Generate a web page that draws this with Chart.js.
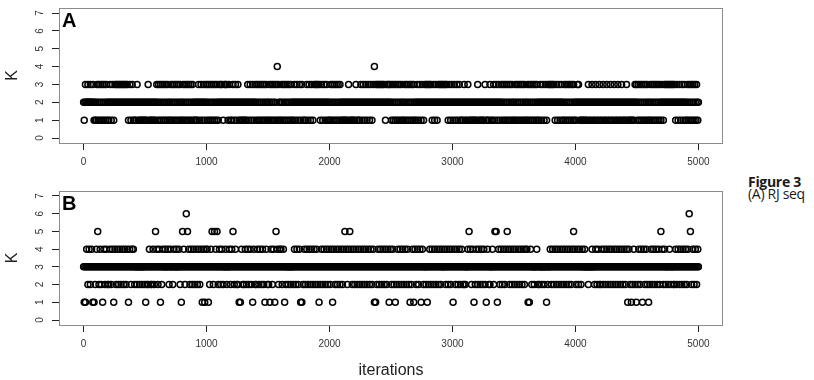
<!DOCTYPE html>
<html>
<head>
<meta charset="utf-8">
<script src="https://cdn.jsdelivr.net/npm/chart.js@4/dist/chart.umd.min.js"></script>
<style>
  html, body { margin: 0; padding: 0; background: #ffffff; }
  body { width: 814px; height: 380px; position: relative; overflow: hidden; }
  canvas { position: absolute; left: 0; }
  .cap { position: absolute; left: 748px; font-family: "Open Sans", "Noto Sans", sans-serif; font-size: 14px; line-height: 14px; color: #1a1a1a; white-space: nowrap; letter-spacing: -0.3px; }
</style>
</head>
<body>
<canvas id="chartA" width="740" height="175" style="top:0px;width:740px;height:175px"></canvas>
<canvas id="chartB" width="740" height="204" style="top:176px;width:740px;height:204px"></canvas>
<div class="cap" style="top:175px;font-weight:bold;">Figure 3</div>
<div class="cap" style="top:187px;">(A) RJ seq</div>
<script>
// ---- data: sampled MCMC traces of K (one digit per 5 iterations, one string per 100 iterations) ----
const iterStep = 5;
const binIters = 100;
const kTraceA = [
  "21232223222322232121","21321321321321321321","21232123212323232323","23232323232321232123","21212123212121212121",
  "21212321212121212123","21321321321321321321","21321321321321321321","21321321321321321321","21212123212321232123",
  "21321321321321321321","23232321232323212321","21232123212321212121","21212123212321232123","21321321321321321321",
  "21321321321321341321","21321321321321321321","21232123212321232121","21232123212321232323","23232123212321232121",
  "21321321321321321321","21212121212321212121","21232121212321232123","21232123212324232323","23232323232123232323",
  "21321321321321321321","21321321321321321321","21232123212321232323","23232321232123212323","23232323232321232123",
  "21232123212321212123","21212321212121212121","23212121212123212121","23212123212321232123","21321321321321321321",
  "21321321321321321321","21321321321321321321","21232123212321232323","23232321232123212321","21321321321321321321",
  "21232321212121212121","23212123212123212123","21212321212321212321","21232121232121232121","21232121212121212323",
  "21321321321321321321","21321321321321321321","23212323232323232323","23212321232123212321","21321321321321321321",
  "2"
];
const kTraceB = [
  "31313432343234313132","34353234323134323432","32343234313432343234","32343234323431343234","34323332333233323332",
  "31323234323234323534","32343132343334333432","34333234333433343231","35343236353432343234","32343234323431343134",
  "34313234353235343532","34323432333432333432","34353234323231313432","32343234323432313432","32343234323432313432",
  "32313432343135343234","34323431323332333233","32343234323431313234","32343234323432343234","32313234323432343234",
  "32343134323432343234","32343534323435343234","32343234323432343234","32343234323431313234","32343234323432343134",
  "32343231323432343234","32343234323132343134","32343234313432333231","32343234323432343234","32343334323432343234",
  "31343234323432343232","32333435343234313234","32343234323432313432","32333432353531343234","32343234353432343234",
  "32343234323432343234","34313134323332333432","32333233323331323334","32343234323432343234","32343234323432343534",
  "32343234323433343333","32333334333234323432","32343234323432343234","32343234323432343234","32343134323132343231",
  "32343234313432343231","32343234323432343235","34323432333234323332","32343234323432343234","32343635323432343234",
  "3"
];
const xTicks = [0, 1000, 2000, 3000, 4000, 5000];
const xTickLabels = ["0", "1000", "2000", "3000", "4000", "5000"];
const yTicks = [0, 1, 2, 3, 4, 5, 6, 7];
const yTickLabels = ["0", "1", "2", "3", "4", "5", "6", "7"];
const panelLabels = ["A", "B"];
const xTitle = "iterations";
const yTitle = "K";

// ---- drawing ----
const FAMILY = "'Liberation Sans', Arial, Helvetica, sans-serif";

function tracePoints(trace) {
  const pts = [];
  trace.forEach((s, b) => {
    for (let i = 0; i < s.length; i++) {
      pts.push({ x: b * binIters + i * iterStep, y: Number(s[i]) });
    }
  });
  return pts;
}

const framePlugin = {
  id: 'frame',
  afterDraw(chart, args, opts) {
    const ctx = chart.ctx;
    const ca = chart.chartArea;
    ctx.save();
    ctx.strokeStyle = '#8c8c8c';
    ctx.lineWidth = 1;
    ctx.strokeRect(Math.round(ca.left) + 0.5, Math.round(ca.top) + 0.5,
                   Math.round(ca.right - ca.left) - 1, Math.round(ca.bottom - ca.top));
    const ys = chart.scales.y;
    ctx.fillStyle = '#333';
    ctx.font = '10px ' + FAMILY;
    ctx.textAlign = 'center';
    ctx.textBaseline = 'middle';
    yTicks.forEach((v, i) => {
      ctx.save();
      ctx.translate(ca.left - 19, ys.getPixelForValue(v));
      ctx.rotate(-Math.PI / 2);
      ctx.fillText(yTickLabels[i], 0, 0);
      ctx.restore();
    });
    ctx.fillStyle = '#000';
    ctx.font = 'bold 20px ' + FAMILY;
    ctx.textAlign = 'left';
    ctx.textBaseline = 'alphabetic';
    ctx.fillText(opts.letter, ca.left + 3, ca.top + 19);
    ctx.restore();
  }
};

function makeChart(id, trace, letter, padTop, xAxisH, showXTitle) {
  return new Chart(document.getElementById(id), {
    type: 'scatter',
    data: {
      datasets: [{
        data: tracePoints(trace),
        pointStyle: 'circle',
        pointRadius: 3,
        pointHoverRadius: 3,
        borderWidth: 1.5,
        borderColor: '#000000',
        backgroundColor: 'rgba(0,0,0,0)',
        showLine: false
      }]
    },
    options: {
      responsive: false,
      animation: false,
      devicePixelRatio: 1,
      events: [],
      layout: { padding: { top: padTop, right: 17, left: 0, bottom: 0 } },
      plugins: {
        legend: { display: false },
        tooltip: { enabled: false },
        frame: { letter: letter }
      },
      scales: {
        x: {
          type: 'linear', min: -200, max: 5200,
          afterBuildTicks: s => { s.ticks = xTicks.map(v => ({ value: v })); },
          afterFit: s => { s.height = xAxisH; },
          border: { display: false },
          grid: { drawOnChartArea: false, drawTicks: true, tickLength: 7, color: '#222', lineWidth: 1 },
          ticks: { padding: 6, autoSkip: false, maxRotation: 0, minRotation: 0, color: '#333',
                   font: { size: 10, family: FAMILY }, callback: (v, i) => xTickLabels[i] },
          title: { display: showXTitle, text: xTitle, color: '#222', font: { size: 16, family: FAMILY }, padding: { top: 0, bottom: 0 } }
        },
        y: {
          type: 'linear', min: -0.28, max: 7.28,
          afterBuildTicks: s => { s.ticks = yTicks.map(v => ({ value: v })); },
          afterFit: s => { s.width = 59; },
          border: { display: false },
          grid: { drawOnChartArea: false, drawTicks: true, tickLength: 7, color: '#222', lineWidth: 1 },
          ticks: { display: false },
          title: { display: true, text: yTitle, color: '#222', font: { size: 16, family: FAMILY }, padding: { top: 3, bottom: 0 } }
        }
      }
    },
    plugins: [framePlugin]
  });
}

makeChart('chartA', kTraceA, panelLabels[0], 8, 32, false);
makeChart('chartB', kTraceB, panelLabels[1], 15, 55, true);
</script>
</body>
</html>
